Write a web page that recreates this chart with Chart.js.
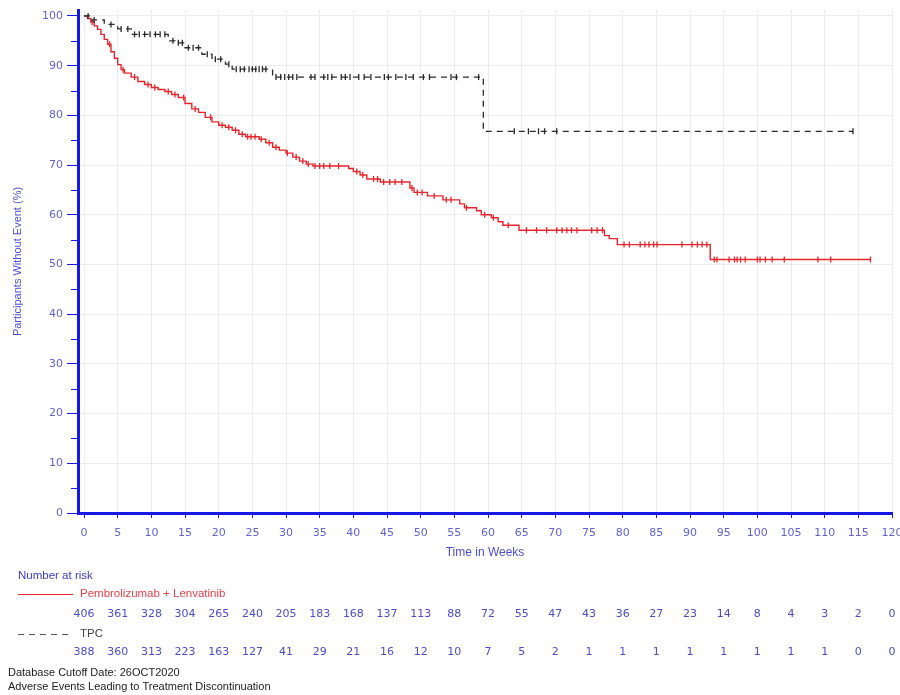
<!DOCTYPE html>
<html>
<head>
<meta charset="utf-8">
<script src="https://cdn.jsdelivr.net/npm/chart.js@4.4.0/dist/chart.umd.min.js"></script>
<style>
  html, body { margin: 0; padding: 0; background: #ffffff; }
  #wrap { width: 900px; height: 695px; position: relative; }
</style>
</head>
<body>
<div id="wrap"><canvas id="km" width="900" height="695"></canvas></div>
<script>
// Time axis ticks (weeks)
const weekTicks = [0,5,10,15,20,25,30,35,40,45,50,55,60,65,70,75,80,85,90,95,100,105,110,115,120];
const pctTicks = [0,5,10,15,20,25,30,35,40,45,50,55,60,65,70,75,80,85,90,95,100];

// Number at risk at each tick
const atRiskPembro = [406,361,328,304,265,240,205,183,168,137,113,88,72,55,47,43,36,27,23,14,8,4,3,2,0];
const atRiskTPC    = [388,360,313,223,163,127,41,29,21,16,12,10,7,5,2,1,1,1,1,1,1,1,1,0,0];

// Pembrolizumab + Lenvatinib: event times and survival after each step
const pembroTimes = [0,0.5,1,1.5,2,2.5,3,3.5,4,4.5,5,5.5,6,7,8,9,10,11,12,13,14,15,16,17,18,19,20,21,22,23,24,26,27,28,29,30,31,32,33,34,39.3,40,41,42,44,48.4,49,51,53.3,55.8,56.5,58.3,59,60.5,61.5,62.2,64.6,77.3,78,79.2,93,116.8];
const pembroSurv  = [100,99.5,98.8,98.0,97.3,96.3,95.3,94.3,92.8,91.5,90.2,89.2,88.5,87.7,86.8,86.2,85.6,85.2,84.8,84.2,83.6,82.4,81.3,80.6,79.6,78.7,78.0,77.6,77.0,76.2,75.7,75.2,74.5,73.6,73.0,72.4,71.6,70.8,70.2,69.8,69.3,68.7,68.0,67.2,66.6,65.4,64.5,63.8,63.0,62.2,61.4,60.8,60.0,59.4,58.6,57.9,56.9,55.8,55.2,54.0,51.0,51.0];
const pembroCensored = [1.2,3.8,5.8,7.5,9.5,10.5,12.5,13.5,14.8,16.5,18.8,20.5,21.5,22.5,23.5,24.3,24.8,25.4,26.3,27.5,28.5,30.2,31.5,32.5,33.3,34.3,35,35.6,36.5,37.8,40.5,41.4,43,43.6,44.5,45.4,46.2,47.2,48.7,49.5,50.2,52,53.8,54.5,56.8,59.5,60.8,63,65.7,67.2,68.7,70.2,71,71.7,72.4,73.2,75.4,76.2,77,80.2,81,82.6,83.3,83.9,84.6,85.1,88.8,90.3,91.1,91.8,92.5,93.6,94,95.8,96.6,97,97.5,98.2,100,100.4,101.2,102.2,104,109,110.9,116.8];

// TPC: event times and survival after each step
const tpcTimes = [0,0.9,3,5,7,12.5,13.5,15,17.5,19,21,22,28,59.3,114.2];
const tpcSurv  = [100,99.2,98.3,97.4,96.3,95.0,94.6,93.6,92.3,91.3,90.3,89.3,87.7,76.8,76.8];
const tpcCensored = [0.6,1.5,4,5.5,6.5,7.5,8.2,9,9.8,10.6,11.3,12,13.2,14,14.6,15.5,16.2,17,18.3,19.5,20.3,21.5,22.6,23.2,23.8,24.5,25,25.5,26,26.5,27,28.5,29.2,29.8,30.4,31,31.6,33.7,34.3,35.6,36.2,36.8,38.2,38.8,39.5,40.8,41.6,42.6,44.6,45.2,46.3,47.8,48.9,50.4,51.3,54.5,55.3,58.6,63.9,66,67.5,68.4,70.2,114.2];

const AXIS_BLUE = '#1717e8';
const TICK_BLUE = '#6262d0';
const TITLE_BLUE = '#4d4dd6';
const RED = '#e8252b';
const DARK = '#2a2a2a';

function curve(times, surv) {
  return times.map((t, i) => ({ x: t, y: surv[i] }));
}
// Survival level of a step curve at time t (where a censored subject sits)
function levelAt(times, surv, t) {
  let v = surv[0];
  for (let i = 0; i < times.length; i++) { if (times[i] <= t) v = surv[i]; }
  return v;
}
function marks(censored, times, surv) {
  return censored.map(t => ({ x: t, y: levelAt(times, surv, t) }));
}

const markStyle = {
  showLine: false,
  pointStyle: 'line',
  rotation: 90,
  pointRadius: 3,
  pointBorderWidth: 1.3,
  pointHoverRadius: 3
};

// Minor ticks on the percentage axis plus the number-at-risk block
const extrasPlugin = {
  id: 'kmExtras',
  afterDraw(chart) {
    const c = chart.ctx;
    const xs = chart.scales.x;
    const ys = chart.scales.y;
    c.save();
    // minor y ticks
    c.strokeStyle = AXIS_BLUE;
    c.lineWidth = 1;
    pctTicks.filter(v => v % 10 !== 0).forEach(v => {
      const py = Math.round(ys.getPixelForValue(v)) + 0.5;
      c.beginPath(); c.moveTo(ys.right - 7, py); c.lineTo(ys.right, py); c.stroke();
    });

    c.textBaseline = 'middle';
    c.textAlign = 'left';
    c.font = '11.5px "Liberation Sans", Arial, sans-serif';
    c.fillStyle = '#3c3cc4';
    c.fillText('Number at risk', 18, 576);

    // legend sample: solid red
    c.strokeStyle = RED; c.lineWidth = 1.2; c.setLineDash([]);
    c.beginPath(); c.moveTo(18, 594.5); c.lineTo(73, 594.5); c.stroke();
    c.fillStyle = '#e4424a';
    c.fillText('Pembrolizumab + Lenvatinib', 80, 594);

    // legend sample: dashed dark
    c.strokeStyle = '#555555'; c.setLineDash([6, 5]);
    c.beginPath(); c.moveTo(18, 634.5); c.lineTo(72, 634.5); c.stroke();
    c.setLineDash([]);
    c.fillStyle = '#444444';
    c.fillText('TPC', 80, 634);

    // at-risk counts under each tick
    c.textAlign = 'center';
    c.font = '11px "DejaVu Sans", Verdana, sans-serif';
    c.fillStyle = '#4c4ccc';
    weekTicks.forEach((t, i) => {
      const px = xs.getPixelForValue(t);
      c.fillText(String(atRiskPembro[i]), px, 614);
      c.fillText(String(atRiskTPC[i]), px, 652);
    });

    // footnotes
    c.textAlign = 'left';
    c.font = '11px "Liberation Sans", Arial, sans-serif';
    c.fillStyle = '#222222';
    c.fillText('Database Cutoff Date: 26OCT2020', 8, 673);
    c.fillText('Adverse Events Leading to Treatment Discontinuation', 8, 687);
    c.restore();
  }
};

new Chart(document.getElementById('km'), {
  type: 'line',
  data: {
    datasets: [
      {
        label: 'TPC',
        data: curve(tpcTimes, tpcSurv),
        stepped: 'before',
        borderColor: DARK,
        borderWidth: 1.3,
        borderDash: [6, 5],
        pointRadius: 0,
        fill: false
      },
      Object.assign({
        label: 'TPC censored',
        data: marks(tpcCensored, tpcTimes, tpcSurv),
        borderColor: DARK,
        backgroundColor: DARK
      }, markStyle),
      {
        label: 'Pembrolizumab + Lenvatinib',
        data: curve(pembroTimes, pembroSurv),
        stepped: 'before',
        borderColor: RED,
        borderWidth: 1.4,
        pointRadius: 0,
        fill: false
      },
      Object.assign({
        label: 'Pembrolizumab + Lenvatinib censored',
        data: marks(pembroCensored, pembroTimes, pembroSurv),
        borderColor: RED,
        backgroundColor: RED
      }, markStyle)
    ]
  },
  options: {
    responsive: false,
    animation: false,
    devicePixelRatio: 1,
    layout: { padding: { left: 0, top: 10, right: 8, bottom: 132 } },
    plugins: { legend: { display: false }, tooltip: { enabled: false } },
    scales: {
      x: {
        type: 'linear',
        min: -0.9,
        max: 120,
        afterBuildTicks: s => { s.ticks = weekTicks.map(v => ({ value: v })); },
        afterFit: s => { s.height = 50; s.paddingRight = 0; s.paddingLeft = 0; },
        grid: { color: '#ececec', lineWidth: 1, drawTicks: true, tickLength: 5, tickColor: AXIS_BLUE, tickWidth: 1 },
        border: { color: AXIS_BLUE, width: 3 },
        ticks: {
          color: TICK_BLUE,
          font: { family: '"DejaVu Sans", Verdana, sans-serif', size: 11 },
          padding: 9,
          maxRotation: 0,
          autoSkip: false
        },
        title: {
          display: true,
          text: 'Time in Weeks',
          color: TITLE_BLUE,
          font: { family: '"Liberation Sans", Arial, sans-serif', size: 12 },
          padding: { top: 0, bottom: 3 }
        }
      },
      y: {
        min: 0,
        max: 101.2,
        afterBuildTicks: s => { s.ticks = pctTicks.map(v => ({ value: v })); },
        afterFit: s => { s.width = 78; s.paddingTop = 0; },
        grid: {
          color: c => (c.tick && c.tick.value % 10 === 0) ? '#ececec' : 'rgba(0,0,0,0)',
          drawTicks: true,
          tickLength: 11,
          tickColor: c => (c.tick && c.tick.value % 10 === 0) ? AXIS_BLUE : 'rgba(0,0,0,0)',
          tickWidth: 1
        },
        border: { color: AXIS_BLUE, width: 3 },
        ticks: {
          color: TICK_BLUE,
          font: { family: '"DejaVu Sans", Verdana, sans-serif', size: 11 },
          padding: 4,
          autoSkip: false,
          callback: v => (v % 10 === 0 ? String(v) : '')
        },
        title: {
          display: true,
          text: 'Participants Without Event (%)',
          color: TITLE_BLUE,
          font: { family: '"Liberation Sans", Arial, sans-serif', size: 11 },
          padding: { top: 11, bottom: 0 }
        }
      }
    }
  },
  plugins: [extrasPlugin]
});
</script>
</body>
</html>
